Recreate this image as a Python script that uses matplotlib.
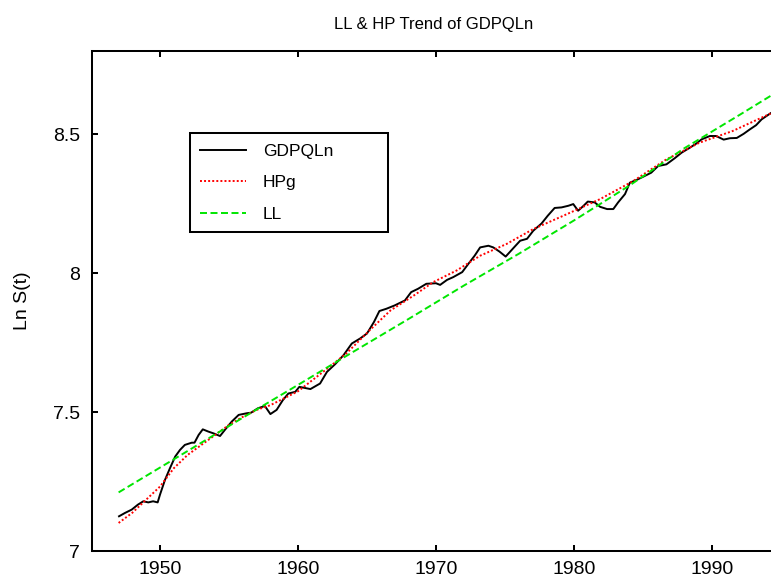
import matplotlib
matplotlib.use('Agg')
import matplotlib.pyplot as plt

plt.rcParams['font.family'] = ['Liberation Sans', 'DejaVu Sans']

# GDPQLn (year, log level)
gdp_t = [1947.03, 1947.46, 1947.95, 1948.4, 1948.79, 1949.15, 1949.5, 1949.83,
         1950.0, 1950.36, 1950.72, 1951.1, 1951.45, 1951.8, 1952.3, 1952.5,
         1952.8, 1953.1, 1953.5, 1953.85, 1954.35, 1954.7, 1955.2, 1955.7,
         1956.3, 1956.6, 1957.1, 1957.6, 1958.0, 1958.45, 1958.9, 1959.3,
         1959.8, 1960.1, 1960.9, 1961.6, 1962.1, 1962.7, 1963.3, 1963.9,
         1964.5, 1965.0, 1965.5, 1965.9, 1966.4, 1967.0, 1967.75, 1968.2,
         1968.7, 1969.3, 1970.0, 1970.3, 1970.8, 1971.25, 1971.9, 1972.35,
         1972.8, 1973.2, 1973.8, 1974.15, 1974.6, 1975.05, 1975.6, 1976.1,
         1976.6, 1977.05, 1977.65, 1978.1, 1978.6, 1979.1, 1979.6, 1979.95,
         1980.3, 1980.7, 1981.0, 1981.5, 1981.9, 1982.4, 1982.85, 1983.2,
         1983.7, 1984.05, 1984.5, 1985.0, 1985.6, 1986.1, 1986.7, 1987.3,
         1987.8, 1988.4, 1988.9, 1989.25, 1989.85, 1990.3, 1990.85, 1991.3,
         1991.8, 1992.3, 1992.75, 1993.2, 1993.6, 1994.25]
gdp_v = [7.125, 7.137, 7.149, 7.167, 7.179, 7.175, 7.179, 7.175,
         7.203, 7.256, 7.298, 7.34, 7.364, 7.382, 7.39, 7.39,
         7.418, 7.438, 7.43, 7.424, 7.414, 7.436, 7.466, 7.49,
         7.496, 7.498, 7.514, 7.522, 7.493, 7.508, 7.543, 7.567,
         7.573, 7.591, 7.583, 7.603, 7.645, 7.673, 7.705, 7.747,
         7.765, 7.783, 7.824, 7.864, 7.872, 7.884, 7.902, 7.932,
         7.944, 7.962, 7.964, 7.958, 7.976, 7.986, 8.004, 8.034,
         8.063, 8.093, 8.099, 8.093, 8.078, 8.06, 8.09, 8.117,
         8.124, 8.153, 8.179, 8.207, 8.235, 8.237, 8.243, 8.249,
         8.225, 8.243, 8.258, 8.255, 8.239, 8.231, 8.231, 8.255,
         8.285, 8.326, 8.335, 8.347, 8.362, 8.386, 8.392, 8.414,
         8.434, 8.452, 8.468, 8.482, 8.494, 8.494, 8.481, 8.486,
         8.487, 8.502, 8.518, 8.533, 8.554, 8.576]

# HP trend
hp_t = [1947.0, 1948, 1949, 1950, 1951, 1952, 1953, 1954, 1955, 1956, 1957,
        1958, 1959, 1960, 1962.08, 1963.5, 1965.2, 1966.7, 1968.4, 1969.8,
        1971.5, 1973.2, 1975.1, 1977.05, 1979.5, 1981.9, 1984.3, 1986.7,
        1989.1, 1991.5, 1994.25]
hp_v = [7.101, 7.138, 7.185, 7.232, 7.298, 7.346, 7.382, 7.418, 7.454, 7.483,
        7.508, 7.525, 7.55, 7.575, 7.655, 7.711, 7.795, 7.866, 7.92, 7.968,
        8.01, 8.063, 8.105, 8.159, 8.213, 8.267, 8.332, 8.41, 8.47, 8.512,
        8.575]

# local linear trend
ll_t = [1947.0, 1952, 1956, 1960, 1964, 1968, 1972, 1976, 1980, 1984, 1988,
        1992, 1994.3]
ll_v = [7.211, 7.36, 7.48, 7.598, 7.717, 7.835, 7.955, 8.07, 8.19, 8.315,
        8.45, 8.57, 8.64]

x_ticks = [1950, 1960, 1970, 1980, 1990]
y_ticks = [7, 7.5, 8, 8.5]
y_labels = ['7', '7.5', '8', '8.5']

fig = plt.figure(figsize=(7.71, 5.85), dpi=100)
ax = fig.add_axes([0.1193, 0.0581, 0.8859, 0.8547])

ax.plot(gdp_t, gdp_v, color='black', lw=1.4, label='GDPQLn')
ax.plot(hp_t, hp_v, color='red', lw=1.4, linestyle=(0, (1, 1.1)), label='HPg')
ax.plot(ll_t, ll_v, color='#00e600', lw=1.4, linestyle=(0, (3.6, 1.8)), label='LL')

ax.set_xlim(1945.07, 1994.57)
ax.set_ylim(7, 8.8)
ax.set_xticks(x_ticks)
ax.set_yticks(y_ticks)
ax.set_yticklabels(y_labels)

for sp in ax.spines.values():
    sp.set_linewidth(1.45)
ax.tick_params(axis='both', direction='in', length=4.3, width=1.45, labelsize=14)
ax.tick_params(axis='x', top=True, pad=7)
ax.tick_params(axis='y', pad=8.5)

ax.set_title('LL & HP Trend of GDPQLn', fontsize=12, pad=16)
ax.set_ylabel('Ln S(t)', fontsize=14, va='center')
ax.yaxis.set_label_coords(-0.102, 0.5)

# legend box: top-left at (190, 133) px, 198 px wide
leg = ax.legend(loc='upper left', bbox_to_anchor=(0.1435, 0.736, 0.29, 0.1),
                mode='expand', borderaxespad=0, fontsize=12.5, fancybox=False,
                framealpha=1, edgecolor='black', borderpad=0.6,
                labelspacing=0.95, handlelength=2.6, handletextpad=1.0)
leg.get_frame().set_linewidth(1.45)

fig.savefig('out.png', dpi=100)
